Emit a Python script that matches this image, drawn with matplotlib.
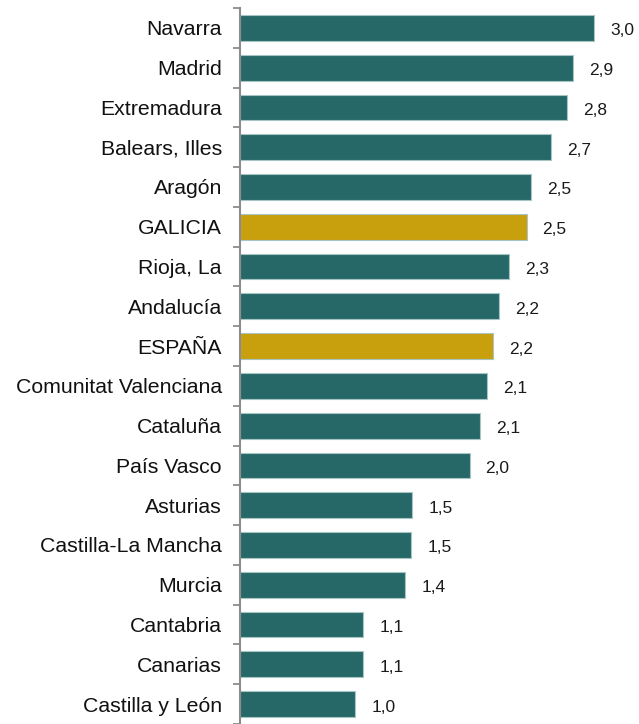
import matplotlib
matplotlib.use("Agg")
import matplotlib.pyplot as plt
import numpy as np

regions = ["Navarra", "Madrid", "Extremadura", "Balears, Illes", "Aragón", "GALICIA",
           "Rioja, La", "Andalucía", "ESPAÑA", "Comunitat Valenciana", "Cataluña",
           "País Vasco", "Asturias", "Castilla-La Mancha", "Murcia", "Cantabria",
           "Canarias", "Castilla y León"]
values = [3.04, 2.86, 2.81, 2.67, 2.50, 2.46, 2.31, 2.22, 2.17, 2.12, 2.06, 1.97,
          1.48, 1.47, 1.42, 1.06, 1.06, 0.99]
highlight = ["GALICIA", "ESPAÑA"]

TEAL = "#266867"
GOLD = "#C8A00E"

plt.rcParams["font.family"] = ["Liberation Sans", "DejaVu Sans"]

fig = plt.figure(figsize=(6.39, 7.24), dpi=100)
ax = fig.add_axes([240 / 639, 0.0, 1 - 240 / 639, 1 - 8 / 724])

y = np.arange(len(regions))
colors = [GOLD if r in highlight else TEAL for r in regions]
ax.barh(y, values, height=0.65, color=colors, edgecolor="#a9c4c4", linewidth=0.8, zorder=2)

for yi, v in zip(y, values):
    ax.annotate(f"{v:.1f}".replace(".", ","), xy=(v, yi), xytext=(16, -3),
                textcoords="offset pixels", ha="left", va="center",
                fontsize=12.5, color="#1a1a1a")

ax.set_xlim(0, 399 / 116.5)
ax.set_ylim(len(regions) - 0.5, -0.5)

ax.set_yticks(y)
ax.set_yticklabels(regions, fontsize=15.3, color="#111111")
ax.set_yticks(np.arange(-0.5, len(regions) + 0.5, 1), minor=True)
ax.tick_params(axis="y", which="major", length=0, pad=13)
ax.tick_params(axis="y", which="minor", length=5, width=1.3, color="#8c8c8c")
ax.set_xticks([])

for s in ["top", "right", "bottom"]:
    ax.spines[s].set_visible(False)
ax.spines["left"].set_color("#8c8c8c")
ax.spines["left"].set_linewidth(1.5)

fig.savefig("out.png", dpi=100)
